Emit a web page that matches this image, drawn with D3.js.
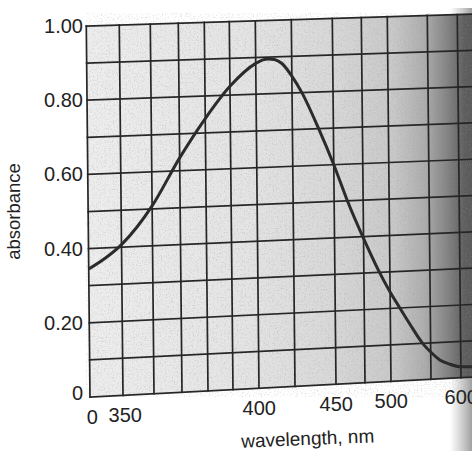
<!DOCTYPE html>
<html>
<head>
<meta charset="utf-8">
<script src="https://cdn.jsdelivr.net/npm/d3@7"></script>
<style>
  body { margin: 0; background: #fff; }
  svg { display: block; font-family: "Liberation Sans", Arial, sans-serif; }
</style>
</head>
<body>
<div id="chart"></div>
<script>
// absorbance curve
const wavelengths = [340, 345, 350, 355, 360, 370, 380, 390, 400, 405, 409, 413, 418, 425, 431, 441, 450, 462, 475, 490, 500, 512, 525, 541, 550, 565, 580, 600, 620];
const absorbance  = [0.345, 0.372, 0.407, 0.452, 0.508, 0.635, 0.739, 0.824, 0.884, 0.893, 0.895, 0.893, 0.882, 0.846, 0.80, 0.70, 0.60, 0.495, 0.395, 0.30, 0.245, 0.20, 0.152, 0.097, 0.075, 0.052, 0.04, 0.03, 0.028];

// grid lines (the wavelength axis is not evenly spaced in the original)
const gridWavelengths = [340, 350, 360, 370, 380, 390, 400, 425, 450, 475, 500, 550, 600, 650];
const gridAbsorbance = [0, 0.1, 0.2, 0.3, 0.4, 0.5, 0.6, 0.7, 0.8, 0.9, 1.0];

// tick labels
const xTickValues = [340, 350, 400, 450, 500, 600];
const xTickLabels = ['0', '350', '400', '450', '500', '600'];
const yTickValues = [0, 0.2, 0.4, 0.6, 0.8, 1.0];
const yTickLabels = ['0', '0.20', '0.40', '0.60', '0.80', '1.00'];

const width = 472;
const height = 451;
const plotTop = 26, plotBottom = 397, plotLeft = 90, plotRight = 500;
// pixel position of each grid wavelength along the bottom edge (layout only)
const gridX = [90, 123, 154, 182, 208, 233, 259, 295, 336, 365, 391, 431, 461, 500];

const x = d3.scaleLinear().domain(gridWavelengths).range(gridX);
const y = d3.scaleLinear().domain([0, 1]).range([plotBottom, plotTop]);

// the printed page was photographed at an angle: lines tilt up to the right,
// more at the bottom than at the top
const slopeTop = -0.031, slopeBottom = -0.052, lean = 0.01;
function warp([px, py]) {
  const s = slopeTop + (py - plotTop) / (plotBottom - plotTop) * (slopeBottom - slopeTop);
  return [px + lean * (py - plotBottom), py + (px - plotLeft) * s];
}

const svg = d3.select('#chart').append('svg')
  .attr('width', width)
  .attr('height', height);

const defs = svg.append('defs');
const grad = defs.append('linearGradient').attr('id', 'shade')
  .attr('gradientUnits', 'userSpaceOnUse')
  .attr('x1', plotLeft).attr('x2', 480).attr('y1', 0).attr('y2', 0);
[[0, '#ededed'], [0.4, '#e4e4e4'], [0.62, '#d8d8d8'], [0.78, '#c8c8c8'], [0.86, '#acacac'], [0.92, '#808080'], [0.96, '#5e5e5e'], [1, '#555']]
  .forEach(([o, col]) => grad.append('stop').attr('offset', o).attr('stop-color', col));

const edge = defs.append('linearGradient').attr('id', 'edge')
  .attr('x1', 0).attr('x2', 1).attr('y1', 0).attr('y2', 0);
edge.append('stop').attr('offset', 0).attr('stop-color', '#999').attr('stop-opacity', 0);
edge.append('stop').attr('offset', 1).attr('stop-color', '#888').attr('stop-opacity', 0.8);

const grain = defs.append('filter').attr('id', 'grain')
  .attr('x', 0).attr('y', 0).attr('width', '100%').attr('height', '100%');
grain.append('feTurbulence').attr('type', 'fractalNoise')
  .attr('baseFrequency', 0.75).attr('numOctaves', 3).attr('seed', 4);
grain.append('feColorMatrix').attr('type', 'matrix')
  .attr('values', '0 0 0 0 0.3  0 0 0 0 0.3  0 0 0 0 0.3  3 0 0 0 -1.55');

// page shading at the right edge, outside the plot
svg.append('rect')
  .attr('x', 450).attr('y', 8).attr('width', 22).attr('height', height - 8)
  .attr('fill', 'url(#edge)');

// plot background
const corners = [[plotLeft, plotTop], [plotRight, plotTop], [plotRight, plotBottom], [plotLeft, plotBottom]].map(warp);
svg.append('polygon')
  .attr('points', corners.join(' '))
  .attr('fill', 'url(#shade)');
svg.append('polygon')
  .attr('points', corners.join(' '))
  .attr('filter', 'url(#grain)')
  .attr('opacity', 0.35);

// grid
const grid = svg.append('g')
  .attr('stroke', '#262626')
  .attr('stroke-width', 1.7)
  .attr('stroke-linecap', 'square');

grid.selectAll('.vline')
  .data(gridWavelengths)
  .join('line')
  .attr('class', 'vline')
  .each(function (d) {
    const [x1, y1] = warp([x(d), plotTop]);
    const [x2, y2] = warp([x(d), plotBottom]);
    d3.select(this).attr('x1', x1).attr('y1', y1).attr('x2', x2).attr('y2', y2);
  });

grid.selectAll('.hline')
  .data(gridAbsorbance)
  .join('line')
  .attr('class', 'hline')
  .each(function (d) {
    const [x1, y1] = warp([plotLeft, y(d)]);
    const [x2, y2] = warp([plotRight, y(d)]);
    d3.select(this).attr('x1', x1).attr('y1', y1).attr('x2', x2).attr('y2', y2);
  });

// curve
const points = absorbance.map((a, i) => warp([x(wavelengths[i]), y(a)]));
svg.append('path')
  .attr('d', d3.line().curve(d3.curveMonotoneX)(points))
  .attr('fill', 'none')
  .attr('stroke', '#2b2b2b')
  .attr('stroke-width', 3);

// x tick labels
svg.append('g')
  .selectAll('text')
  .data(xTickValues)
  .join('text')
  .attr('x', (d) => warp([x(d), plotBottom + 27])[0] + (d < 400 ? 2 : 0))
  .attr('y', (d) => warp([x(d), plotBottom + 27])[1])
  .attr('text-anchor', 'middle')
  .attr('font-size', 20)
  .attr('fill', '#222')
  .text((d, i) => xTickLabels[i]);

// y tick labels
const yAxis = svg.append('g')
  .attr('transform', `translate(${plotLeft - 5}, 0)`)
  .call(d3.axisLeft(y).tickValues(yTickValues)
    .tickFormat((d, i) => yTickLabels[i]).tickSize(0).tickPadding(2));
yAxis.select('.domain').remove();
yAxis.selectAll('text')
  .attr('font-size', 20)
  .attr('font-family', null)
  .attr('fill', '#222');
yAxis.selectAll('.tick').filter((d) => d === 0).select('text').attr('dy', '0.1em');

// axis titles
svg.append('text')
  .attr('transform', `translate(${plotLeft + 218}, 445) rotate(-2.4)`)
  .attr('text-anchor', 'middle')
  .attr('font-size', 19)
  .attr('fill', '#222')
  .text('wavelength, nm');

svg.append('text')
  .attr('transform', `translate(20, ${(plotTop + plotBottom) / 2}) rotate(-90)`)
  .attr('text-anchor', 'middle')
  .attr('font-size', 18.5)
  .attr('fill', '#222')
  .text('absorbance');
</script>
</body>
</html>
